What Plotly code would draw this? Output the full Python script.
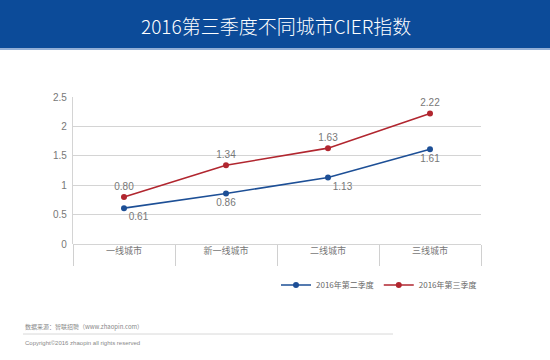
import plotly.graph_objects as go

categories = ["一线城市", "新一线城市", "二线城市", "三线城市"]
q2_values = [0.61, 0.86, 1.13, 1.61]
q3_values = [0.80, 1.34, 1.63, 2.22]
series_names = ["2016年第二季度", "2016年第三季度"]
y_ticks = [0, 0.5, 1, 1.5, 2, 2.5]
y_tick_labels = ["0", "0.5", "1", "1.5", "2", "2.5"]
title_text = "2016第三季度不同城市CIER指数"

W, H = 550, 360
ML, MR, MT, MB = 73, 69, 97, 116
PW, PH = W - ML - MR, H - MT - MB

def px_x(x):
    return (x - ML) / PW

def px_y(y):
    return (H - MB - y) / PH

BLUE = "#1d4f96"
RED = "#b1262f"
CJK = "Noto Sans CJK SC, Liberation Sans, sans-serif"
NUM = "Liberation Sans, Arial, sans-serif"

fig = go.Figure()
fig.add_trace(go.Scatter(
    x=categories, y=q2_values, name=series_names[0],
    mode="lines+markers+text",
    line=dict(color=BLUE, width=1.6),
    marker=dict(color=BLUE, size=6),
    text=[f"{v:.2f}" for v in q2_values],
    textposition=["bottom right", "bottom center", "bottom right", "bottom center"],
    textfont=dict(family=NUM, size=10, color="#777777"),
))
fig.add_trace(go.Scatter(
    x=categories, y=q3_values, name=series_names[1],
    mode="lines+markers+text",
    line=dict(color=RED, width=1.6),
    marker=dict(color=RED, size=6),
    text=[f"{v:.2f}" for v in q3_values],
    textposition="top center",
    textfont=dict(family=NUM, size=10, color="#777777"),
))

fig.update_layout(
    width=W, height=H,
    margin=dict(l=ML, r=MR, t=MT, b=MB),
    paper_bgcolor="white", plot_bgcolor="white",
    showlegend=True,
    legend=dict(orientation="h", x=px_x(482), xanchor="right",
                y=px_y(285), yanchor="middle",
                font=dict(family=CJK, size=8, color="#666666"),
                bgcolor="rgba(0,0,0,0)", itemwidth=30, tracegroupgap=0),
    xaxis=dict(type="category", tickson="boundaries", ticks="outside",
               ticklen=21, tickcolor="#d0d0d0", tickwidth=1,
               showgrid=False, showline=False, zeroline=False,
               tickfont=dict(family=CJK, size=9, color="#777777"),
               range=[-0.5, 3.5]),
    yaxis=dict(range=[0, 2.5], tickvals=y_ticks, ticktext=y_tick_labels,
               showgrid=True, gridcolor="#d4d4d4", gridwidth=1.3,
               zeroline=True, zerolinecolor="#d4d4d4", zerolinewidth=1.3,
               showline=True, linecolor="#d4d4d4", linewidth=1.3,
               ticks="", ticklabelstandoff=3,
               tickfont=dict(family=NUM, size=10, color="#777777")),
)

shapes = [
    dict(type="rect", xref="paper", yref="paper",
         x0=px_x(0), x1=px_x(W), y0=px_y(48), y1=px_y(0),
         fillcolor="#0c4b99", line=dict(width=0), layer="below"),
    dict(type="line", xref="paper", yref="paper",
         x0=px_x(0), x1=px_x(W), y0=px_y(49), y1=px_y(49),
         line=dict(color="#6f95c8", width=1.5)),
    dict(type="line", xref="paper", yref="paper",
         x0=px_x(23), x1=px_x(393), y0=px_y(334), y1=px_y(334),
         line=dict(color="#d8d8d8", width=1)),
]
fig.update_layout(shapes=shapes)

fig.add_annotation(text=title_text, xref="paper", yref="paper",
                   x=px_x(276), y=px_y(26), xanchor="center", yanchor="middle",
                   showarrow=False,
                   font=dict(family=CJK, size=19, color="white", weight=300))
fig.add_annotation(text="数据来源：智联招聘（www.zhaopin.com）", xref="paper", yref="paper",
                   x=px_x(23), y=px_y(326), xanchor="left", yanchor="middle",
                   showarrow=False,
                   font=dict(family=CJK, size=6, color="#888888"))
fig.add_annotation(text="Copyright©2016 zhaopin all rights reserved", xref="paper", yref="paper",
                   x=px_x(23), y=px_y(343), xanchor="left", yanchor="middle",
                   showarrow=False,
                   font=dict(family=NUM, size=6, color="#888888"))

fig.write_html("out.html",
               config={"displayModeBar": False},
               post_script="document.body.style.margin='0';document.body.style.overflow='hidden';")
